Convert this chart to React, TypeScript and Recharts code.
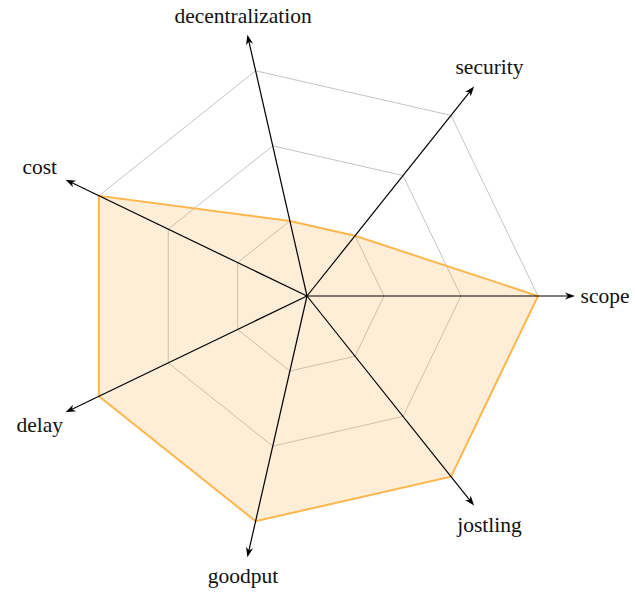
import React from 'react';
import { RadarChart, Radar, PolarGrid, PolarAngleAxis, PolarRadiusAxis } from 'recharts';

// listed counter-clockwise from the east
const axes = ['scope', 'security', 'decentralization', 'cost', 'delay', 'goodput', 'jostling'];
const scores = [3, 1, 1, 3, 3, 3, 3];

// recharts walks the angle axis clockwise, so keep scope first and reverse the rest
const order = [0, 6, 5, 4, 3, 2, 1];
const data = order.map((i) => ({ axis: axes[i], score: scores[i] }));

const W = 635;
const H = 592;
const CX = 307;
const CY = 296;
const OUTER = 231;
const ARROW_R = 268;

// axis line with arrow + label, drawn from the angle the library gives each tick
const AxisTick = (props: any) => {
  const { payload } = props;
  const a = (payload.coordinate * Math.PI) / 180;
  const ux = Math.cos(a);
  const uy = -Math.sin(a);
  const nx = -uy;
  const ny = ux;
  const tx = CX + ARROW_R * ux;
  const ty = CY + ARROW_R * uy;
  const b1 = [tx - 10 * ux + 3.6 * nx, ty - 10 * uy + 3.6 * ny];
  const b2 = [tx - 10 * ux - 3.6 * nx, ty - 10 * uy - 3.6 * ny];
  const nk = [tx - 7 * ux, ty - 7 * uy];
  const lr = 284 + 14 * Math.abs(ux);
  return (
    <g>
      <line x1={CX} y1={CY} x2={tx - 6 * ux} y2={ty - 6 * uy} stroke="#000" strokeWidth={1.2} />
      <path
        d={`M${tx},${ty} L${b1[0]},${b1[1]} L${nk[0]},${nk[1]} L${b2[0]},${b2[1]} Z`}
        fill="#000"
      />
      <text
        x={CX + lr * ux}
        y={CY + lr * uy}
        textAnchor="middle"
        dominantBaseline="central"
        fontFamily="'Liberation Serif', serif"
        fontSize={21.5}
        fill="#111"
      >
        {payload.value}
      </text>
    </g>
  );
};

export default function App() {
  return (
    <div style={{ position: 'absolute', left: 0, top: 0, width: W, height: H, background: '#fff' }}>
      <RadarChart
        width={W}
        height={H}
        data={data}
        cx={CX}
        cy={CY}
        outerRadius={OUTER}
        startAngle={0}
        endAngle={-360}
        margin={{ top: 0, right: 0, bottom: 0, left: 0 }}
      >
        <PolarGrid gridType="polygon" radialLines={false} stroke="#c4c4c4" strokeWidth={1} />
        <PolarRadiusAxis domain={[0, 3]} tickCount={4} tick={false} axisLine={false} />
        <Radar
          dataKey="score"
          stroke="#ffb74d"
          strokeWidth={2}
          fill="#fbb04a"
          fillOpacity={0.22}
          isAnimationActive={false}
        />
        <PolarAngleAxis dataKey="axis" tick={AxisTick} axisLine={false} tickLine={false} />
      </RadarChart>
    </div>
  );
}
